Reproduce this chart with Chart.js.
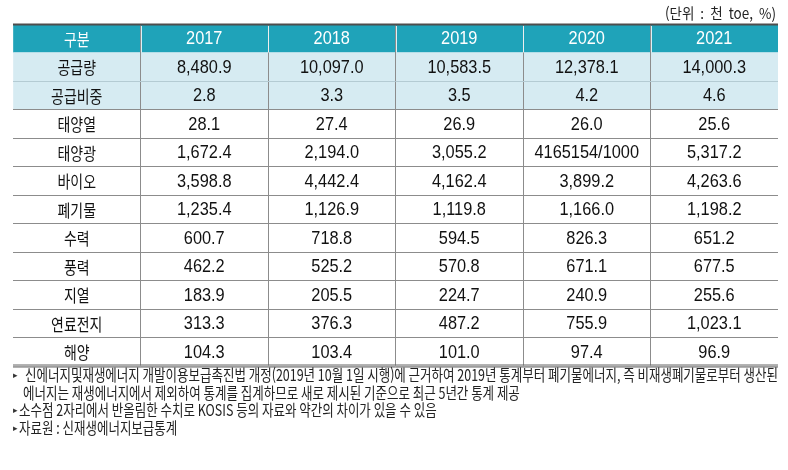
<!DOCTYPE html>
<html lang="ko">
<head>
<meta charset="utf-8">
<script src="https://cdn.jsdelivr.net/npm/chart.js@4.4.1/dist/chart.umd.min.js"></script>
<style>
  html, body { margin: 0; padding: 0; background: #fff; }
  #wrap { width: 788px; height: 470px; position: relative; }
</style>
</head>
<body>
<div id="wrap"><canvas id="supplyTable"></canvas></div>
<script>
// ── Data ──────────────────────────────────────────────────────────────────────

const headerLabel = '구분';
const years = ['2017', '2018', '2019', '2020', '2021'];
const rowLabels = ['공급량', '공급비중', '태양열', '태양광', '바이오', '폐기물', '수력', '풍력', '지열', '연료전지', '해양'];
const v2017 = ['8,480.9', '2.8', '28.1', '1,672.4', '3,598.8', '1,235.4', '600.7', '462.2', '183.9', '313.3', '104.3'];
const v2018 = ['10,097.0', '3.3', '27.4', '2,194.0', '4,442.4', '1,126.9', '718.8', '525.2', '205.5', '376.3', '103.4'];
const v2019 = ['10,583.5', '3.5', '26.9', '3,055.2', '4,162.4', '1,119.8', '594.5', '570.8', '224.7', '487.2', '101.0'];
const v2020 = ['12,378.1', '4.2', '26.0', '4165154/1000', '3,899.2', '1,166.0', '826.3', '671.1', '240.9', '755.9', '97.4'];
const v2021 = ['14,000.3', '4.6', '25.6', '5,317.2', '4,263.6', '1,198.2', '651.2', '677.5', '255.6', '1,023.1', '96.9'];
const shadedRows = ['공급량', '공급비중'];

const unitNote = '(단위  :  천  toe,  %)';
const footnotes = [
    { bullet: true, text: '신에너지및재생에너지 개발이용보급촉진법 개정(2019년 10월 1일 시행)에 근거하여 2019년 통계부터 폐기물에너지, 즉 비재생폐기물로부터 생산된' },
    { bullet: false, text: '에너지는 재생에너지에서 제외하여 통계를 집계하므로 새로 제시된 기준으로 최근 5년간 통계 제공' },
    { bullet: true, text: '소수점 2자리에서 반올림한 수치로 KOSIS 등의 자료와 약간의 차이가 있을 수 있음' },
    { bullet: true, text: '자료원 : 신재생에너지보급통계' },
];

const yearValues = [v2017, v2018, v2019, v2020, v2021];
const allRows = [headerLabel, ...rowLabels];
const colCount = years.length + 1;

const HEADER_BG = '#1fa3b9';
const SHADE_BG = '#d6ebf2';
const LINE = '#8c8c8c';

const KO_FONT = '"Noto Sans CJK KR", "Noto Sans", sans-serif';
const NUM_FONT = '"Liberation Sans", Arial, sans-serif';

// ── Helpers ───────────────────────────────────────────────────────────────────

function drawScaledText(ctx, text, x, y, font, color, sx, align) {
    ctx.save();
    ctx.font = font;
    ctx.fillStyle = color;
    ctx.textAlign = align || 'center';
    ctx.textBaseline = 'middle';
    ctx.translate(x, y);
    ctx.scale(sx, 1);
    ctx.fillText(text, 0, 0);
    ctx.restore();
}

function hLine(ctx, x1, x2, y, color, width) {
    ctx.save();
    ctx.strokeStyle = color;
    ctx.lineWidth = width;
    ctx.beginPath();
    ctx.moveTo(x1, y);
    ctx.lineTo(x2, y);
    ctx.stroke();
    ctx.restore();
}

// ── Table plugin: borders and cell texts ──────────────────────────────────────

const tableTextPlugin = {
    id: 'tableText',
    afterDraw(chart) {
        const { ctx, scales: { x, y } } = chart;
        const left = x.getPixelForValue(0);
        const right = x.getPixelForValue(colCount);
        const rowH = y.getPixelForValue(1) - y.getPixelForValue(0);
        const headerBottom = y.getPixelForValue(0) + rowH / 2;

        // outer borders
        hLine(ctx, left, right, y.top + 0.5, '#4d4d4d', 2);
        hLine(ctx, left, right, y.bottom - 1, '#666', 1);
        hLine(ctx, left, right, y.bottom, '#aaa', 1);
        hLine(ctx, left, right, y.bottom + 1, '#666', 1);

        // white separators inside the header
        ctx.save();
        ctx.strokeStyle = 'rgba(255,255,255,0.85)';
        ctx.lineWidth = 1;
        for (let c = 1; c < colCount; c++) {
            const px = Math.round(x.getPixelForValue(c)) + 0.5;
            ctx.beginPath();
            ctx.moveTo(px, y.top + 2);
            ctx.lineTo(px, headerBottom);
            ctx.stroke();
        }
        ctx.restore();

        // header
        const hy = y.getPixelForValue(0) + 1;
        drawScaledText(ctx, headerLabel, x.getPixelForValue(0.5), hy, `17px ${KO_FONT}`, '#fff', 0.82);
        years.forEach((yr, i) => {
            drawScaledText(ctx, yr, x.getPixelForValue(i + 1.5), hy, `19px ${NUM_FONT}`, '#fff', 0.86);
        });

        // body rows
        rowLabels.forEach((label, r) => {
            const py = y.getPixelForValue(r + 1) + 1;
            drawScaledText(ctx, label, x.getPixelForValue(0.5), py, `17px ${KO_FONT}`, '#111', 0.82);
            yearValues.forEach((vals, c) => {
                drawScaledText(ctx, vals[r], x.getPixelForValue(c + 1.5), py, `19px ${NUM_FONT}`, '#111', 0.86);
            });
        });

        // unit note
        drawScaledText(ctx, unitNote, right - 2, 13, `15px ${KO_FONT}`, '#222', 0.9, 'right');

        // footnotes
        ctx.save();
        ctx.font = `16px ${KO_FONT}`;
        const sx = (right - 25) / ctx.measureText(footnotes[0].text).width;
        ctx.restore();
        const lineYs = [375, 392.5, 410, 427.5];
        footnotes.forEach((note, i) => {
            let tx = 23;
            if (note.bullet) {
                drawScaledText(ctx, '▸', left + 2, lineYs[i], `9px ${KO_FONT}`, '#333', 1, 'center');
                tx = i === 0 ? 25 : 19;
            }
            drawScaledText(ctx, note.text, tx, lineYs[i], `16px ${KO_FONT}`, '#222', sx, 'left');
        });
    },
};

// ── Chart ─────────────────────────────────────────────────────────────────────

new Chart(document.getElementById('supplyTable'), {
    type: 'bar',
    data: {
        labels: allRows,
        datasets: [{
            data: allRows.map((r) => (r === headerLabel || shadedRows.includes(r) ? [0, colCount] : null)),
            backgroundColor: allRows.map((r) => (r === headerLabel ? HEADER_BG : SHADE_BG)),
            borderWidth: 0,
            barPercentage: 1,
            categoryPercentage: 1,
        }],
    },
    options: {
        indexAxis: 'y',
        responsive: true,
        maintainAspectRatio: false,
        animation: false,
        events: [],
        layout: { padding: { left: 13, right: 10, top: 24, bottom: 104 } },
        plugins: { legend: { display: false }, tooltip: { enabled: false } },
        scales: {
            x: {
                type: 'linear',
                min: 0,
                max: colCount,
                ticks: { display: false, stepSize: 1 },
                border: { display: false },
                grid: {
                    z: 1,
                    drawTicks: false,
                    color: (c) => (c.tick && (c.tick.value === 0 || c.tick.value === colCount) ? 'rgba(0,0,0,0)' : LINE),
                },
            },
            y: {
                type: 'category',
                ticks: { display: false },
                border: { display: false },
                grid: {
                    z: 1,
                    offset: true,
                    drawTicks: false,
                    color: (c) => {
                        if (c.index === undefined || c.index <= 1) return 'rgba(0,0,0,0)';
                        if (c.index === 2) return '#b4cbd3';
                        return LINE;
                    },
                },
            },
        },
    },
    plugins: [tableTextPlugin],
});
</script>
</body>
</html>
